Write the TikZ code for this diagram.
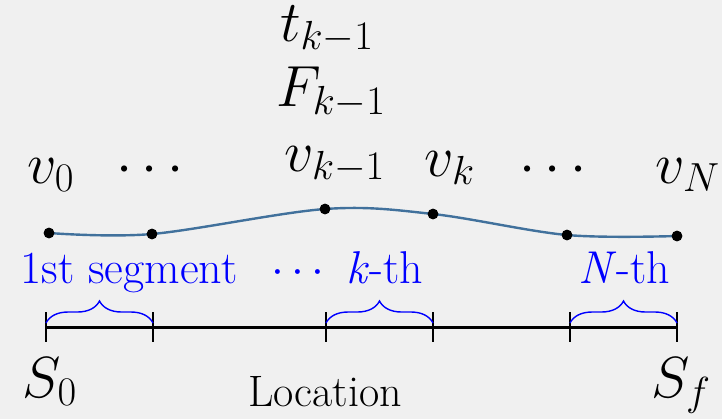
\RequirePackage{fix-cm}
\documentclass[tikz,border=0pt]{standalone}
\usepackage{fontspec}
\usetikzlibrary{decorations.pathreplacing}
\definecolor{bg}{RGB}{240,240,240}
\definecolor{curvecol}{RGB}{65,113,156}
\definecolor{segblue}{RGB}{0,0,255}
\tikzset{
  mlabel/.style={anchor=base, inner sep=0pt, font=\fontsize{29}{33}\selectfont},
  seglabel/.style={anchor=base, inner sep=0pt, text=segblue, font=\rmfamily\fontsize{23}{27}\selectfont},
  axlabel/.style={anchor=base, inner sep=0pt, font=\rmfamily\fontsize{22}{26}\selectfont},
  pt/.style={circle, fill=black, inner sep=0pt, minimum size=5pt},
  segbrace/.style={draw=segblue, line width=0.7pt, decorate, decoration={brace, amplitude=11pt, aspect=0.5}},
  tick/.style={line width=1pt},
}
\begin{document}
\begin{tikzpicture}[x=0.5pt, y=-0.5pt]
\fill[bg] (0,0) rectangle (722,419);
\useasboundingbox (0,0) rectangle (722,419);
% trajectory points
\node[pt] (p0) at (49,233) {};
\node[pt] (p1) at (152,234) {};
\node[pt] (p2) at (325,209) {};
\node[pt] (p3) at (433,214) {};
\node[pt] (p4) at (567,235) {};
\node[pt] (p5) at (677,236) {};
\draw[curvecol, line width=1.2pt] plot[smooth, tension=0.55] coordinates {(p0) (p1) (p2) (p3) (p4) (p5)};
\foreach \n in {p0,p1,p2,p3,p4,p5} \fill (\n) circle (2.7pt);
% top labels
\node[mlabel] (v0) at (51,183) {$v_0$};
\node[mlabel] (d1) at (150,183) {$\cdots$};
\node[mlabel] (vk1) at (335,171) {$v_{k-1}$};
\node[mlabel] (Fk1) at (331,106) {$F_{k-1}$};
\node[mlabel] (tk1) at (327,41) {$t_{k-1}$};
\node[mlabel] (vk) at (450,176) {$v_k$};
\node[mlabel] (d2) at (553,183) {$\cdots$};
\node[mlabel] (vN) at (688,183) {$v_N$};
% segment labels
\node[seglabel] (s1) at (129,283) {1st segment};
\node[seglabel] (sd) at (298,283) {$\cdots$};
\node[seglabel] (sk) at (385,283) {\textit{k}-th};
\node[seglabel] (sN) at (624,283) {\textit{N}-th};
% axis
\coordinate (a0) at (46,327);
\coordinate (a1) at (153,327);
\coordinate (a2) at (326,327);
\coordinate (a3) at (433,327);
\coordinate (a4) at (570,327);
\coordinate (a5) at (677,327);
\draw[line width=1.5pt] (a0) -- (a5);
\foreach \a in {a0,a1,a2,a3,a4,a5} \draw[tick] ([yshift=7.5pt]\a) -- ([yshift=-7.5pt]\a);
% braces
\draw[segbrace] ([yshift=2pt]a0) -- ([yshift=2pt]a1);
\draw[segbrace] ([yshift=2pt]a2) -- ([yshift=2pt]a3);
\draw[segbrace] ([yshift=2pt]a4) -- ([yshift=2pt]a5);
% bottom labels
\node[mlabel] (S0) at (50,397) {$S_0$};
\node[axlabel] (loc) at (325,406) {Location};
\node[mlabel] (Sf) at (681,397) {$S_f$};
\end{tikzpicture}
\end{document}
